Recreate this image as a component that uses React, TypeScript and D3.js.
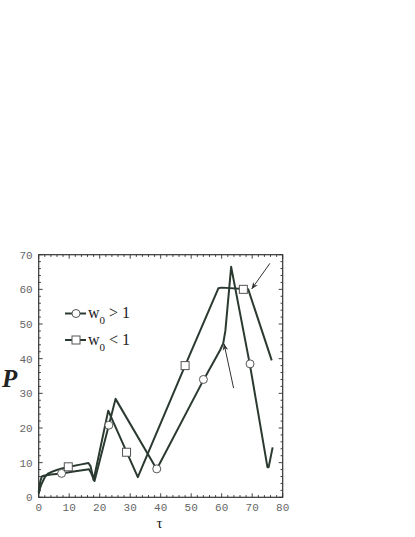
import React from "react";
import * as d3 from "d3";

const xTicks = [0, 10, 20, 30, 40, 50, 60, 70, 80];
const yTicks = [0, 10, 20, 30, 40, 50, 60, 70];

// w0 > 1 (circles)
const circTau = [0, 0.5, 1, 2, 4, 7.5, 12, 16.5, 17.2, 18.3, 25.2, 38.7, 54, 59.5, 60.5, 61.2, 63.1, 69.3, 75, 75.4, 76.7];
const circP = [1.5, 4.5, 6, 6.3, 6.6, 6.9, 7.5, 8.1, 7, 4.7, 28.4, 8.1, 33.8, 42.5, 44.4, 48, 66.5, 38, 8.7, 8.7, 14.4];
// w0 < 1 (squares)
const sqTau = [0, 0.5, 1, 2, 3, 5, 7, 10, 14, 16.3, 17, 18, 22.8, 32.5, 48, 58.9, 60, 68.7, 76.4];
const sqP = [1, 2.8, 4, 5.8, 6.8, 7.6, 8.2, 8.8, 9.5, 9.9, 9, 5, 25, 5.8, 38, 60.3, 60.5, 60, 39.5];

const circMarkTau = [7.5, 23, 38.7, 54, 69.3];
const circMarkP = [6.9, 20.8, 8.2, 34, 38.5];
const sqMarkTau = [9.7, 28.8, 48, 67.1];
const sqMarkP = [8.8, 13, 38, 60];

// arrows: [fromTau, fromP, toTau, toP]
const arrows = [
  [75.8, 67.5, 69.9, 60.2],
  [63.9, 31.5, 60.8, 44.2],
];

const W = 415, H = 537;
const L = 38.7, R = 282.7, T = 254.7, B = 497.3;
const lineColor = "#2b3a30";

export default function App() {
  const x = d3.scaleLinear().domain([0, 80]).range([L, R]);
  const y = d3.scaleLinear().domain([0, 70]).range([B, T]);
  const line = d3.line<[number, number]>().x(d => x(d[0])).y(d => y(d[1]));
  const circPts = circTau.map((t, i) => [t, circP[i]] as [number, number]);
  const sqPts = sqTau.map((t, i) => [t, sqP[i]] as [number, number]);
  const minorX = d3.range(0, 81, 2);
  const minorY = d3.range(0, 71, 2);
  const tickColor = "#444";
  return (
    <svg width={W} height={H} style={{ position: "absolute", left: 0, top: 0, background: "#fff" }}>
      <defs>
        <marker id="ah" viewBox="0 0 10 10" refX="9" refY="5" markerWidth="7" markerHeight="7" orient="auto-start-reverse">
          <path d="M0,1 L10,5 L0,9 L3,5 Z" fill="#333" />
        </marker>
      </defs>
      {/* ticks */}
      {minorX.map(v => {
        const len = v % 10 === 0 ? 4 : 2.2;
        return (
          <g key={"mx" + v}>
            <line x1={x(v)} x2={x(v)} y1={B} y2={B - len} stroke={tickColor} strokeWidth={1} />
            <line x1={x(v)} x2={x(v)} y1={T} y2={T + len} stroke={tickColor} strokeWidth={1} />
          </g>
        );
      })}
      {minorY.map(v => {
        const len = v % 10 === 0 ? 4 : 2.2;
        return (
          <g key={"my" + v}>
            <line x1={L} x2={L + len} y1={y(v)} y2={y(v)} stroke={tickColor} strokeWidth={1} />
            <line x1={R} x2={R - len} y1={y(v)} y2={y(v)} stroke={tickColor} strokeWidth={1} />
          </g>
        );
      })}
      <rect x={L} y={T} width={R - L} height={B - T} fill="none" stroke="#333" strokeWidth={1.2} />
      {xTicks.map(v => (
        <text key={"xt" + v} x={x(v)} y={B + 14} textAnchor="middle" fontFamily="Liberation Mono" fontSize={11} fill="#666">{v}</text>
      ))}
      {yTicks.map(v => (
        <text key={"yt" + v} x={L - 6} y={y(v) + 4} textAnchor="end" fontFamily="Liberation Mono" fontSize={11} fill="#666">{v}</text>
      ))}
      {/* series */}
      <path d={line(sqPts) || ""} fill="none" stroke={lineColor} strokeWidth={2} strokeLinejoin="round" />
      <path d={line(circPts) || ""} fill="none" stroke={lineColor} strokeWidth={2} strokeLinejoin="round" />
      {circMarkTau.map((t, i) => (
        <circle key={"cm" + i} cx={x(t)} cy={y(circMarkP[i])} r={4} fill="#fff" stroke="#555" strokeWidth={1} />
      ))}
      {sqMarkTau.map((t, i) => (
        <rect key={"sm" + i} x={x(t) - 4} y={y(sqMarkP[i]) - 4} width={8} height={8} fill="#fff" stroke="#555" strokeWidth={1} />
      ))}
      {/* arrows */}
      {arrows.map((a, i) => (
        <line key={"ar" + i} x1={x(a[0])} y1={y(a[1])} x2={x(a[2])} y2={y(a[3])} stroke="#333" strokeWidth={1} markerEnd="url(#ah)" />
      ))}
      {/* legend */}
      <line x1={65} x2={86} y1={313.5} y2={313.5} stroke={lineColor} strokeWidth={2} />
      <circle cx={76} cy={313.5} r={4} fill="#fff" stroke="#555" strokeWidth={1} />
      <text x={88} y={318} fontFamily="Liberation Serif" fontSize={16} fill="#222">
        w<tspan fontSize={11} dy={6}>0</tspan><tspan dy={-6}> &gt; 1</tspan>
      </text>
      <line x1={65} x2={86} y1={340} y2={340} stroke={lineColor} strokeWidth={2} />
      <rect x={72} y={336} width={8} height={8} fill="#fff" stroke="#555" strokeWidth={1} />
      <text x={88} y={344.5} fontFamily="Liberation Serif" fontSize={16} fill="#222">
        w<tspan fontSize={11} dy={6}>0</tspan><tspan dy={-6}> &lt; 1</tspan>
      </text>
      {/* axis labels */}
      <text x={2} y={387} fontFamily="Liberation Serif" fontStyle="italic" fontWeight="bold" fontSize={25} fill="#222">P</text>
      <text x={159.5} y={528} textAnchor="middle" fontFamily="Liberation Serif" fontSize={15} fill="#222">τ</text>
    </svg>
  );
}
